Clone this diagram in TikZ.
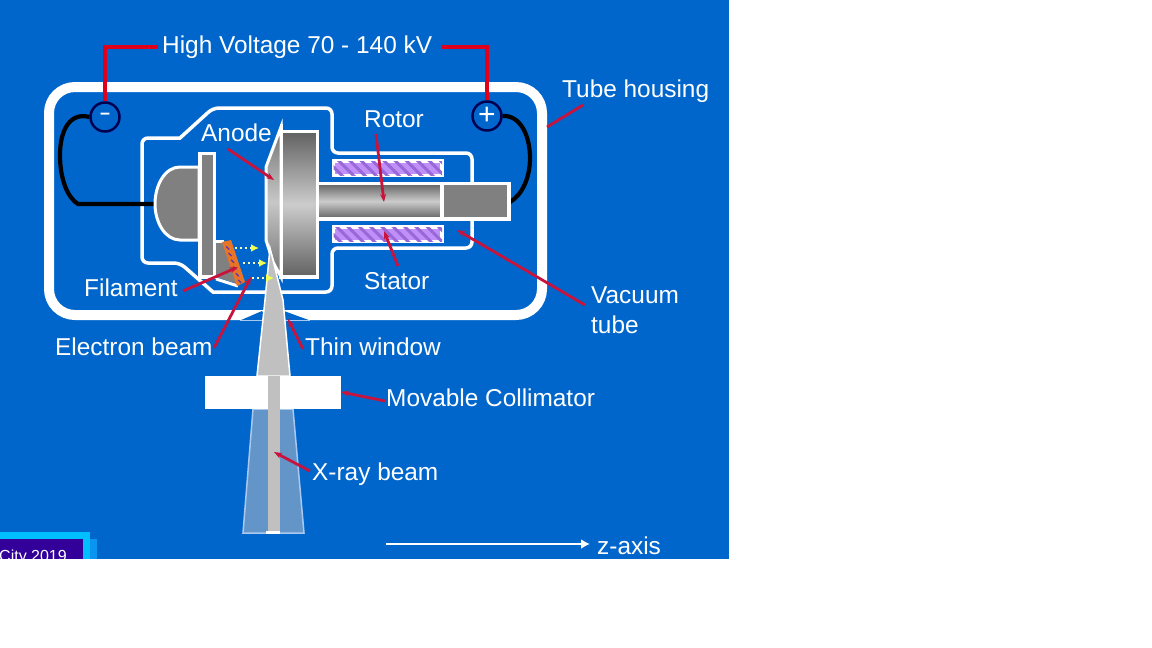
\documentclass[tikz,border=0pt]{standalone}
\usepackage{fontspec}
\setmainfont{Liberation Sans}
\usetikzlibrary{arrows.meta,patterns.meta,calc}
\definecolor{bgblue}{HTML}{0066CC}
\definecolor{wirered}{HTML}{E0001C}
\definecolor{leadred}{HTML}{C8143C}
\definecolor{midgray}{HTML}{808080}
\definecolor{beamgray}{HTML}{C0C0C0}
\definecolor{navy}{HTML}{000050}
\definecolor{coneblue}{HTML}{6495C8}
\definecolor{coneedge}{HTML}{A8C8F0}
\definecolor{statorfill}{HTML}{C090F8}
\definecolor{statorhatch}{HTML}{9868D8}
\definecolor{fil}{HTML}{E87428}
\definecolor{eyellow}{HTML}{F0FF50}
\definecolor{logocyan}{HTML}{00BFFF}
\definecolor{logoblue}{HTML}{0A96F0}
\definecolor{logopurple}{HTML}{330099}
\tikzset{
  x=1pt,y=-1pt,
  lab/.style={anchor=base west,inner sep=0pt,text=white,font=\fontsize{24.4}{26}\selectfont},
  leader/.style={draw=leadred,line width=2.8pt,-{Stealth[length=8pt,width=6pt]}},
  hvwire/.style={draw=wirered,line width=4pt},
  blackwire/.style={draw=black,line width=4.2pt},
  whitebox/.style={draw=white,line width=3.5pt},
  metal/.style={whitebox,top color=black!62,bottom color=black!62,middle color=black!20},
  stator/.style={draw=white,line width=3.5pt,fill=statorfill,postaction={pattern={Lines[angle=-45,distance=8pt,line width=3pt]},pattern color=statorhatch}},
  terminal/.style={circle,draw=navy,line width=2.5pt,fill=bgblue,minimum size=29pt,inner sep=0pt,text=white},
  ebeam/.style={draw=white!60!eyellow,line width=2.4pt,dash pattern=on 2.4pt off 2.6pt,-{Latex[length=8pt,width=8pt,color=eyellow]}}
}
\begin{document}
\begin{tikzpicture}
\path[use as bounding box,fill=white] (0,0) rectangle (1152,648);
\fill[bgblue] (0,0) rectangle (729,559);

% housing
\draw[draw=white,line width=10pt,rounded corners=26pt] (49,87) rectangle (542,315);
% thin window
\fill[bgblue] (240,320.5) -- (262,311) -- (284,311) -- (310,320.5) -- cycle;
\draw[draw=coneedge,line width=1pt] (240,320) -- (310,320);
\draw[draw=coneedge,line width=1pt] (262,311) -- (284,311);

% vacuum tube outline
\draw[whitebox,rounded corners=6pt]
  (472,182) -- (472,153) -- (332,153) -- (332,108) -- (213,108) [sharp corners] -- (180,138) [rounded corners=6pt] -- (142,138)
  -- (142,263) -- (180,263) [sharp corners] -- (213,292) [rounded corners=6pt] -- (332,292) -- (332,248) -- (472,248) -- (472,220);

% wires
\coordinate (wA) at (78,204);
\coordinate (wB) at (155,204);
\coordinate (wC) at (510,202);
\node[terminal,font=\fontsize{24}{24}\selectfont] (minus) at (105,117) {\raisebox{-3pt}{\scalebox{1.5}[1]{-}}};
\node[terminal,font=\fontsize{30}{30}\selectfont] (plus) at (487,116) {\raisebox{-2pt}{+}};
\draw[blackwire] (minus.west) .. controls (70,112) and (60,130) .. (60,155) .. controls (60,180) and (68,198) .. (wA) -- (wB);
\draw[blackwire] (plus.east) .. controls (520,115) and (530,135) .. (530,158) .. controls (530,178) and (522,195) .. (wC);

% cathode
\fill[midgray] (216,240) -- (224,240) -- (238,284) -- (216,277) -- cycle;
\draw[draw=white,line width=3pt] (216,241) -- (224,241);
\draw[draw=white,line width=3pt] (216,279) -- (238,286);
\draw[whitebox,line width=3pt,fill=midgray] (199,167) -- (180,167) .. controls (165,167) and (155,185) .. (155,204) .. controls (155,222) and (165,240) .. (180,240) -- (199,240) -- cycle;
\draw[whitebox,fill=midgray] (200,153.5) rectangle (214.5,277);

% rotor and stator
\draw[metal] (316,183.5) rectangle (442,219);
\draw[whitebox,fill=midgray] (442,183.5) rectangle (509,219);
\path[stator] (333.5,161) rectangle (442,175.5);
\path[stator] (333.5,227) rectangle (442,241.5);

% anode
\draw[metal] (281,131.5) rectangle (317.5,277);
\draw[draw=white,line width=3pt,top color=black!55,bottom color=black!55,middle color=black!22] (281,127) -- (266,167) -- (266,240) -- (273,262) -- (281,277) -- cycle;
\fill[white] (279.5,124) -- (283,124) -- (283,135) -- (279.5,135) -- cycle;

% x-ray beam upper
\draw[draw=white,line width=1.5pt,fill=beamgray] (270,248) -- (283,300) -- (290,376) -- (257,376) -- (265,300) -- cycle;

% filament
\fill[fil] (222,242) -- (231,240) -- (245,282) -- (237,286) -- cycle;
\foreach \t in {0.08,0.24,0.40,0.56,0.72,0.88}{
  \draw[draw=logopurple!80,line width=1.2pt] ($(225,243)!\t!(240,285)$) -- ++(3,3);
}

% electron beams
\coordinate (e1a) at (235,248); \coordinate (e1b) at (259,248);
\coordinate (e2a) at (243,263); \coordinate (e2b) at (267,263);
\coordinate (e3a) at (252,278); \coordinate (e3b) at (274,278);
\draw[ebeam] (e1a) -- (e1b);
\draw[ebeam] (e2a) -- (e2b);
\draw[ebeam] (e3a) -- (e3b);

% collimator and lower beam
\draw[draw=coneedge,line width=1.5pt,fill=coneblue] (253,409) -- (293,409) -- (304,533) -- (243,533) -- cycle;
\fill[white] (205,376) rectangle (268,409);
\fill[white] (279,376) rectangle (341,409);
\fill[beamgray] (268,376) rectangle (279.5,531);
\fill[white] (266,531) rectangle (280,533.5);

% HV wires
\node[lab] (hv) at (162,53) {High Voltage 70 - 140 kV};
\coordinate (hvl) at (158,47); \coordinate (hvr) at (442,47);
\draw[hvwire,line join=miter] (hvl) -- (minus.north |- hvl) -- (minus.north);
\draw[hvwire,line join=miter] (hvr) -- (plus.north |- hvr) -- (plus.north);

% labels
\node[lab] (tube) at (562,97) {Tube housing};
\node[lab] (anode) at (201,141) {Anode};
\node[lab] (rotor) at (364,127) {Rotor};
\node[lab] (stator) at (364,289) {Stator};
\node[lab] (filament) at (84,296) {Filament};
\node[lab] (vac1) at (591,303) {Vacuum};
\node[lab] (vac2) at (591,333) {tube};
\node[lab] (ebl) at (55,355) {Electron beam};
\node[lab] (thin) at (305,355) {Thin window};
\node[lab] (coll) at (386,406) {Movable Collimator};
\node[lab] (xray) at (312,480) {X-ray beam};
\node[lab] (zaxis) at (597,554) {z-axis};

% leaders
\coordinate (a1) at (583,105); \coordinate (a2) at (547,127);
\draw[draw=leadred,line width=2.8pt] (a1) -- (a2);
\coordinate (b1) at (228,149); \coordinate (b2) at (274,180);
\draw[leader] (b1) -- (b2);
\coordinate (c1) at (376,134); \coordinate (c2) at (384,202);
\draw[leader] (c1) -- (c2);
\coordinate (d1) at (398,266); \coordinate (d2) at (384,231);
\draw[leader] (d1) -- (d2);
\coordinate (f1) at (585,305); \coordinate (f2) at (457,230);
\draw[leader] (f1) -- (f2);
\coordinate (g1) at (183,291); \coordinate (g2) at (238,267);
\draw[leader] (g1) -- (g2);
\coordinate (h1) at (214,348); \coordinate (h2) at (251,277);
\draw[leader] (h1) -- (h2);
\coordinate (i1) at (303,349); \coordinate (i2) at (288,319);
\draw[leader] (i1) -- (i2);
\coordinate (j1) at (385,401); \coordinate (j2) at (341,392);
\draw[leader] (j1) -- (j2);
\coordinate (k1) at (310,471); \coordinate (k2) at (274,452);
\draw[leader] (k1) -- (k2);

% z axis
\coordinate (z1) at (386,544); \coordinate (z2) at (590,544);
\draw[draw=white,line width=2pt,-{Latex[length=9pt,width=10pt]}] (z1) -- (z2);

% logo
\fill[logoblue] (85,539) rectangle (97,559);
\fill[logocyan] (0,532) rectangle (90,559);
\fill[logopurple] (0,539) rectangle (83,559);
\begin{scope}
\clip (0,532) rectangle (83,559);
\node[anchor=base east,inner sep=0pt,text=white,font=\fontsize{16}{18}\selectfont] (city) at (67,561) {City 2019};
\end{scope}
\end{tikzpicture}
\end{document}
